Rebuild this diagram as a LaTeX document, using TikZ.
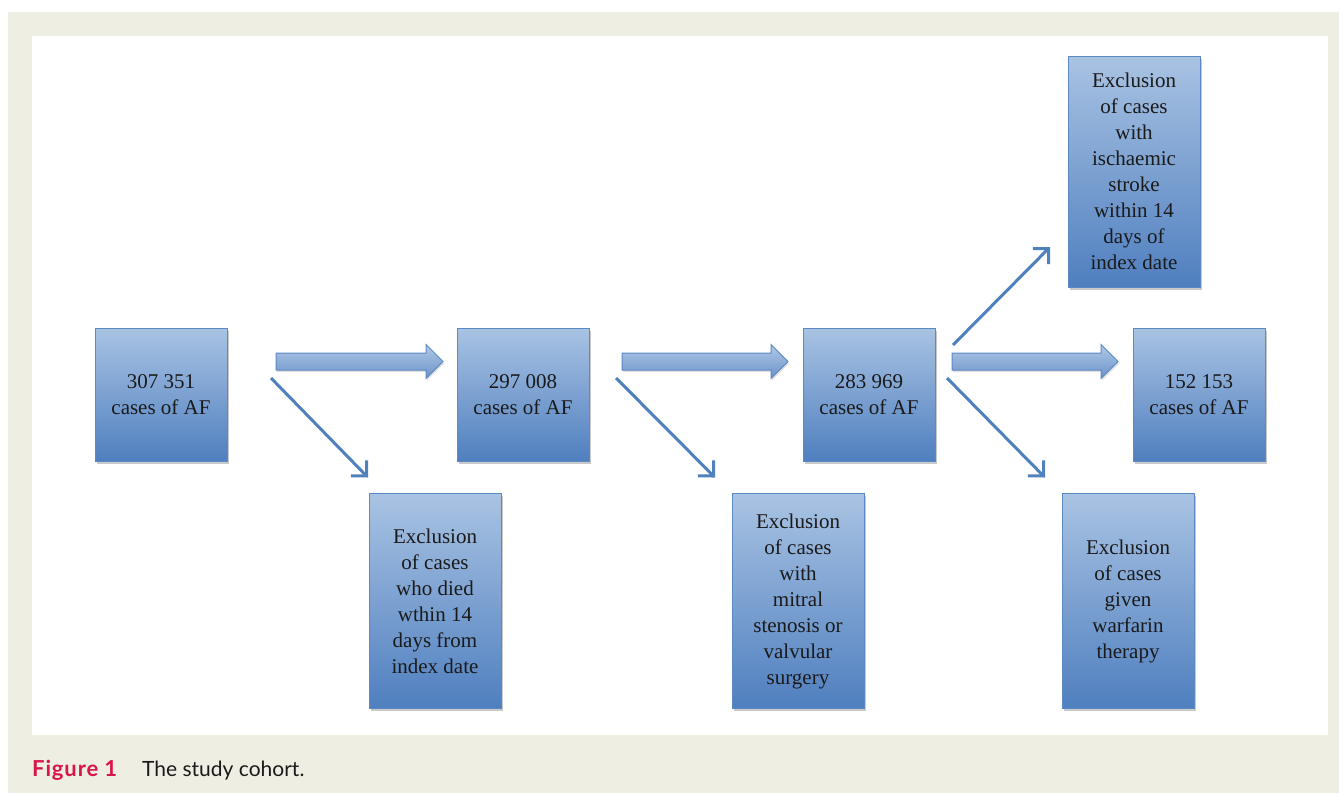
\documentclass[tikz,border=0pt]{standalone}
\usepackage{fontspec}
\setmainfont{Liberation Serif}
\newfontfamily\capfont{Lato}
\newfontfamily\capbold[LetterSpace=4]{Lato}
\usetikzlibrary{calc,shadows,arrows.meta}
\definecolor{beige}{HTML}{EFEEE3}
\definecolor{boxtop}{HTML}{A9C3E3}
\definecolor{boxbot}{HTML}{4F7FBF}
\definecolor{boxline}{HTML}{5B89C4}
\definecolor{arrline}{HTML}{4F81BD}
\definecolor{figred}{HTML}{D7164B}
\definecolor{txt}{HTML}{1A1A1A}
\tikzset{
  flowbox/.style={draw=boxline, line width=1pt, top color=boxtop, bottom color=boxbot,
    minimum width=132pt, inner sep=0pt, outer sep=0pt, align=center, text=txt,
    font=\fontsize{21}{26}\selectfont,
    drop shadow={opacity=0.35, shadow xshift=1.5pt, shadow yshift=-2.5pt, fill=black!60}},
  thinarrow/.style={draw=arrline, line width=3pt, -{Straight Barb[length=11pt,width=22pt,line width=3pt]}},
  blockarrow/.style={draw=boxline, line width=1pt, top color=boxtop!90, bottom color=boxbot!85,
    drop shadow={opacity=0.25, shadow xshift=1pt, shadow yshift=-2pt}}
}
\newcommand\blockarr[2]{%
  \path[blockarrow] let \p1=(#1), \p2=(#2) in
    (\x1,\y1+8.5pt) -- (\x2-17pt,\y1+8.5pt) -- (\x2-17pt,\y1+17pt) -- (\x2,\y1)
    -- (\x2-17pt,\y1-17pt) -- (\x2-17pt,\y1-8.5pt) -- (\x1,\y1-8.5pt) -- cycle;}
\begin{document}
\begin{tikzpicture}[x=1pt,y=-1pt]
\useasboundingbox (0,0) rectangle (1339,793);
\fill[white] (0,0) rectangle (1339,793);
\fill[beige] (8,12) rectangle (1339,793);
\fill[white] (32,36) rectangle (1328,735);

\node[flowbox, minimum height=133pt] (A) at (161,394.5) {307 351\\cases of AF};
\node[flowbox, minimum height=133pt] (B) at (523,394.5) {297 008\\cases of AF};
\node[flowbox, minimum height=133pt] (C) at (869,394.5) {283 969\\cases of AF};
\node[flowbox, minimum height=133pt] (D) at (1199,394.5) {152 153\\cases of AF};
\node[flowbox, minimum height=215pt] (E1) at (435,601) {Exclusion\\of cases\\who died\\wthin 14\\days from\\index date};
\node[flowbox, minimum height=215pt] (E2) at (798,601) {Exclusion\\of cases\\with\\mitral\\stenosis or\\valvular\\surgery};
\node[flowbox, minimum height=215pt] (E3) at (1128,601) {Exclusion\\of cases\\given\\warfarin\\therapy};
\node[flowbox, minimum height=231pt] (E4) at (1134,171.5) {Exclusion\\of cases\\with\\ischaemic\\stroke\\within 14\\days of\\index date};

\coordinate (a1) at ($(A.north east)+(49,33.5)$);
\coordinate (b0) at ($(B.north west)+(-14,33.5)$);
\coordinate (b1) at ($(B.north east)+(33,33.5)$);
\coordinate (c0) at ($(C.north west)+(-15,33.5)$);
\coordinate (c1) at ($(C.north east)+(17,33.5)$);
\coordinate (d0) at ($(D.north west)+(-15,33.5)$);
\blockarr{a1}{b0}
\blockarr{b1}{c0}
\blockarr{c1}{d0}

\draw[thinarrow] ($(A.north east)+(44,50)$) -- ($(E1.north west)+(-1,-16)$);
\draw[thinarrow] ($(B.north east)+(27,50)$) -- ($(E2.north west)+(-17,-16)$);
\draw[thinarrow] ($(C.north east)+(12,50)$) -- ($(E3.north west)+(-17,-16)$);
\draw[thinarrow] ($(C.north east)+(18,17)$) -- ($(E4.south west)+(-18,-40)$);

\node[anchor=base west, inner sep=0pt, font=\capbold\fontsize{22}{24}\selectfont\bfseries, text=figred] (fig) at (32,776) {Figure 1};
\node[anchor=base west, inner sep=0pt, font=\capfont\fontsize{21}{24}\selectfont, text=txt] (cap) at (142,776) {The study cohort.};
\end{tikzpicture}
\end{document}
